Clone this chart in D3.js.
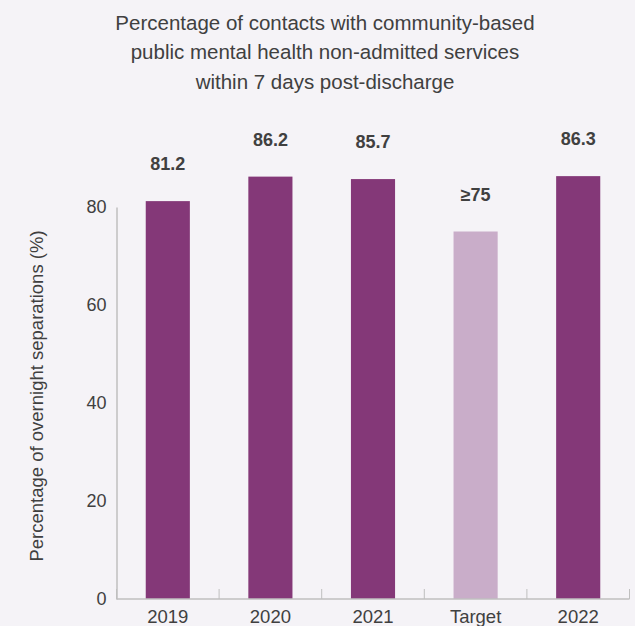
<!DOCTYPE html>
<html>
<head>
<meta charset="utf-8">
<script src="https://cdn.jsdelivr.net/npm/d3@7"></script>
<style>
  html, body { margin: 0; padding: 0; background: #f5f3f7; }
  svg { display: block; font-family: "Liberation Sans", Arial, sans-serif; }
</style>
</head>
<body>
<script>
// Chart data
const categories = ["2019", "2020", "2021", "Target", "2022"];
const values = [81.2, 86.2, 85.7, 75, 86.3];
const valueLabels = ["81.2", "86.2", "85.7", "\u226575", "86.3"];
const isTarget = [false, false, false, true, false];
const yTicks = [0, 20, 40, 60, 80];
const titleLines = [
  "Percentage of contacts with community-based",
  "public mental health non-admitted services",
  "within 7 days post-discharge"
];
const yTitle = "Percentage of overnight separations (%)";

const W = 635, H = 626;
const svg = d3.select("body").append("svg").attr("width", W).attr("height", H);
svg.append("rect").attr("width", W).attr("height", H).attr("fill", "#f5f3f7");

const x0 = 116.5, x1 = 629.5;
const x = d3.scaleBand().domain(categories).range([x0, x1]).paddingInner(0.57).paddingOuter(0.285);
const y = d3.scaleLinear().domain([0, 80]).range([599, 207]);

const textColor = "#404040";
const axisColor = "#bfbfbf";

// Title
svg.append("g").selectAll("text").data(titleLines).join("text")
  .attr("x", 325).attr("y", (d, i) => 29.5 + i * 29.5)
  .attr("text-anchor", "middle")
  .attr("font-size", 20.5).attr("fill", textColor)
  .text(d => d);

// Bars
svg.append("g").selectAll("rect").data(categories).join("rect")
  .attr("x", d => x(d))
  .attr("width", x.bandwidth())
  .attr("y", (d, i) => y(values[i]))
  .attr("height", (d, i) => y(0) - y(values[i]))
  .attr("fill", (d, i) => isTarget[i] ? "#c9adc9" : "#843878");

// Value labels
svg.append("g").selectAll("text").data(categories).join("text")
  .attr("x", d => x(d) + x.bandwidth() / 2)
  .attr("y", (d, i) => y(values[i]) - 31)
  .attr("text-anchor", "middle")
  .attr("font-size", 18).attr("font-weight", "bold").attr("fill", textColor)
  .text((d, i) => valueLabels[i]);

// Y axis
const yAxis = svg.append("g").attr("transform", `translate(${x0},0)`)
  .call(d3.axisLeft(y).tickValues(yTicks).tickSize(0).tickPadding(10));
yAxis.select(".domain").attr("stroke", axisColor).attr("stroke-width", 1.5);
yAxis.selectAll("text").attr("font-size", 18).attr("fill", textColor)
  .attr("font-family", "Liberation Sans, Arial, sans-serif");

// X axis with ticks at band boundaries
const xAxisG = svg.append("g").attr("transform", "translate(0,599)");
xAxisG.append("line").attr("x1", x0).attr("x2", x1)
  .attr("stroke", axisColor).attr("stroke-width", 1.5);
const bounds = d3.range(categories.length + 1).map(i => x0 + i * ((x1 - x0) / categories.length));
xAxisG.selectAll("line.tick").data(bounds).join("line").attr("class", "tick")
  .attr("x1", d => d).attr("x2", d => d).attr("y1", 0).attr("y2", -10)
  .attr("stroke", axisColor).attr("stroke-width", 1);
xAxisG.selectAll("text").data(categories).join("text")
  .attr("x", d => x(d) + x.bandwidth() / 2)
  .attr("y", 24)
  .attr("text-anchor", "middle")
  .attr("font-size", 18.5).attr("fill", textColor)
  .text(d => d);

// Y axis title
svg.append("text")
  .attr("transform", "translate(43,396) rotate(-90)")
  .attr("text-anchor", "middle")
  .attr("font-size", 18.5).attr("fill", textColor)
  .text(yTitle);
</script>
</body>
</html>
